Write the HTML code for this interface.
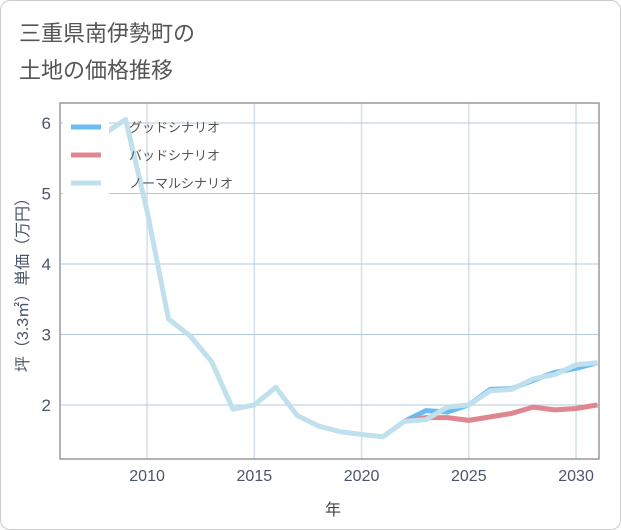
<!DOCTYPE html>
<html><head><meta charset="utf-8"><style>
body{margin:0;background:#fff;font-family:"Liberation Sans","Noto Sans CJK JP",sans-serif}
#wrap{position:relative;width:619px;height:528px;border:1px solid #ccc;border-radius:10px;overflow:hidden}
</style></head><body>
<div id="wrap">
<svg id="chart" width="621" height="530"></svg>
</div>
<script>
const years=[2008,2009,2010,2011,2012,2013,2014,2015,2016,2017,2018,2019,2020,2021,2022,2023,2024,2025,2026,2027,2028,2029,2030,2031];
const normalVals=[5.85,6.05,4.75,3.22,2.98,2.62,1.94,2.0,2.25,1.85,1.7,1.62,1.58,1.55,1.77,1.79,1.97,2.0,2.2,2.22,2.37,2.43,2.57,2.6];
const goodYears=[2022,2023,2024,2025,2026,2027,2028,2029,2030,2031];
const goodVals=[1.77,1.92,1.9,2.0,2.22,2.23,2.35,2.46,2.52,2.6];
const badYears=[2022,2023,2024,2025,2026,2027,2028,2029,2030,2031];
const badVals=[1.77,1.82,1.82,1.78,1.83,1.88,1.97,1.93,1.95,2.0];
const xTicks=[2010,2015,2020,2025,2030];
const yTicks=[2,3,4,5,6];
const legendLabels=["グッドシナリオ","バッドシナリオ","ノーマルシナリオ"];
const NS="http://www.w3.org/2000/svg";
const svg=document.getElementById('chart');
const L=59,R=598,T=102,B=458,x0=2005.94,x1=2031.07,y0=1.233,y1=6.284;
const X=v=>L+(v-x0)/(x1-x0)*(R-L);
const Y=v=>B-(v-y0)/(y1-y0)*(B-T);
function mk(t,a){const e=document.createElementNS(NS,t);for(const k in a)e.setAttribute(k,a[k]);svg.appendChild(e);return e;}
let e;
e=mk('text',{x:18,y:40,'font-size':22,fill:'#555'});e.textContent='三重県南伊勢町の';

e=mk('text',{x:18,y:77,'font-size':22,fill:'#555'});e.textContent='土地の価格推移';

for(const t of xTicks){
 e=mk('line',{x1:X(t),x2:X(t),y1:T,y2:B,stroke:'#d5dfe9','stroke-width':1.5});
 
 e=mk('text',{x:X(t),y:480,'font-size':16,fill:'#4a5568','text-anchor':'middle'});e.textContent=t;
 
}
for(const t of yTicks){
 e=mk('line',{x1:L,x2:R,y1:Y(t),y2:Y(t),stroke:'#b5c8d8','stroke-width':1});
 
 e=mk('text',{x:50,y:Y(t)+6,'font-size':17,fill:'#4a5568','text-anchor':'end'});e.textContent=t;
 
}
e=mk('rect',{x:L,y:T,width:R-L,height:B-T,fill:'none',stroke:'#999','stroke-width':1.5});

function line(xs,vs,c,name){const p=xs.map((x,i)=>X(x).toFixed(1)+','+Y(vs[i]).toFixed(1)).join(' ');
 const el=mk('polyline',{points:p,fill:'none',stroke:c,'stroke-width':5,'stroke-linejoin':'round'});
 }
line(goodYears,goodVals,'#6bbcf0','good-scenario-line');
line(badYears,badVals,'#e0868f','bad-scenario-line');
line(years,normalVals,'#bfe0ec','normal-scenario-line');
const lc=['#6bbcf0','#e0868f','#bfe0ec'];
legendLabels.forEach((lab,i)=>{const y=126+i*28;
 e=mk('rect',{x:62,y:y-12,width:46,height:24,fill:'#fff'});
 e=mk('line',{x1:70,x2:100,y1:y,y2:y,stroke:lc[i],'stroke-width':5});
 e=mk('text',{x:128,y:y+5,'font-size':13,fill:'#555'});e.textContent=lab;
});
e=mk('text',{x:332,y:514,'font-size':16,fill:'#444','text-anchor':'middle'});e.textContent='年';

e=mk('text',{x:0,y:0,'font-size':16,fill:'#4a5568','text-anchor':'middle',transform:'translate(27,280) rotate(-90)'});e.textContent='坪（3.3㎡）単価（万円）';

</script>
</body></html>
